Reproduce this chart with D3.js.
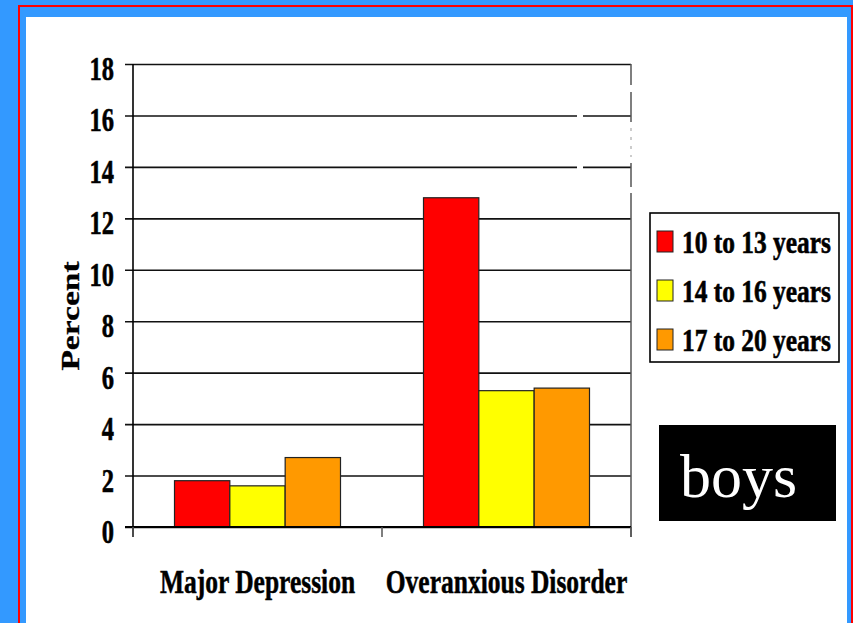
<!DOCTYPE html>
<html><head><meta charset="utf-8">
<script src="https://cdn.jsdelivr.net/npm/d3@7"></script>
<style>html,body{margin:0;padding:0;background:#3399FF;}svg{display:block;}</style>
</head><body>
<script>
const categories = ["Major Depression", "Overanxious Disorder"];
const seriesNames = ["10 to 13 years", "14 to 16 years", "17 to 20 years"];
const age10to13 = [1.8, 12.8];
const age14to16 = [1.6, 5.3];
const age17to20 = [2.7, 5.4];
const seriesColors = ["#FF0000", "#FFFF00", "#FF9900"];
const yTickValues = [0, 2, 4, 6, 8, 10, 12, 14, 16, 18];
const yAxisTitle = "Percent";
const badgeText = "boys";

(function () {
const W = 853, H = 623;
const FONT = "'Liberation Serif','Times New Roman',serif";
const svg = d3.select("body").append("svg").attr("width", W).attr("height", H);

// frame
svg.append("rect").attr("x", 0).attr("y", 0).attr("width", W).attr("height", H).attr("fill", "#3399FF");
svg.append("rect").attr("x", 19).attr("y", 6).attr("width", 833).attr("height", 640)
  .attr("fill", "none").attr("stroke", "#FF0000").attr("stroke-width", 2);
svg.append("rect").attr("x", 26).attr("y", 17).attr("width", 821).attr("height", 620).attr("fill", "#FFFFFF");

const pLeft = 133, pRight = 631, pTop = 64, pBottom = 527;
const x0 = d3.scaleBand().domain(categories).range([pLeft, pRight]).paddingInner(0).paddingOuter(0);
const bw = x0.bandwidth();
const x1 = d3.scaleBand().domain(seriesNames).range([bw / 6, bw * 5 / 6]).padding(0);
const y = d3.scaleLinear().domain([0, 18]).range([pBottom, pTop]);

// gridlines + y ticks
const yAxis = d3.axisLeft(y).tickValues(yTickValues).tickSize(-(pRight - pLeft)).tickFormat("");
const gy = svg.append("g").attr("transform", `translate(${pLeft},0)`).call(yAxis);
gy.select(".domain").remove();
gy.selectAll(".tick line").attr("stroke", "#111").attr("stroke-width", 1.6).attr("x1", -8).attr("x2", pRight - pLeft);

// tick labels (condensed bold serif)
yTickValues.forEach(v => {
  svg.append("text").attr("transform", `translate(114,${y(v) + 16}) scale(0.72,1)`)
    .attr("text-anchor", "end").attr("font-family", FONT).attr("font-weight", "bold")
    .attr("font-size", 34).attr("fill", "#000").attr("stroke", "#000").attr("stroke-width", 0.6).text(v);
});

// right border with gaps
const rightSegs = [[64, 85], [92, 122], [163, 187], [193, 537]];
rightSegs.forEach(s => svg.append("line").attr("x1", pRight).attr("x2", pRight).attr("y1", s[0]).attr("y2", s[1])
  .attr("stroke", "#555").attr("stroke-width", 1.5));
svg.append("line").attr("x1", pRight).attr("x2", pRight).attr("y1", 128).attr("y2", 157)
  .attr("stroke", "#999").attr("stroke-width", 1).attr("stroke-dasharray", "3,6");
// gaps in two gridlines
[16, 14].forEach(v => svg.append("rect").attr("x", 577).attr("y", y(v) - 3).attr("width", 6).attr("height", 6).attr("fill", "#fff"));

// bars
const data = categories.map((c, i) => ({ cat: c, vals: [age10to13[i], age14to16[i], age17to20[i]] }));
const groups = svg.append("g").selectAll("g").data(data).join("g")
  .attr("transform", d => `translate(${x0(d.cat)},0)`);
groups.selectAll("rect").data(d => d.vals.map((v, j) => ({ v, s: seriesNames[j], c: seriesColors[j] })))
  .join("rect")
  .attr("x", d => x1(d.s)).attr("width", x1.bandwidth())
  .attr("y", d => y(d.v)).attr("height", d => y(0) - y(d.v))
  .attr("fill", d => d.c).attr("stroke", "#222").attr("stroke-width", 1.2);

// left axis line
svg.append("line").attr("x1", pLeft).attr("x2", pLeft).attr("y1", pTop).attr("y2", pBottom + 10)
  .attr("stroke", "#000").attr("stroke-width", 1.6);
// bottom axis
svg.append("line").attr("x1", pLeft - 8).attr("x2", pRight).attr("y1", pBottom).attr("y2", pBottom)
  .attr("stroke", "#000").attr("stroke-width", 2.2);
const xAxis = d3.axisBottom(x0).tickSize(0).tickFormat("");
const gx = svg.append("g").attr("transform", `translate(0,${pBottom})`).call(xAxis);
gx.select(".domain").remove();
[pLeft, pLeft + bw, pRight].forEach(xx => svg.append("line").attr("x1", xx).attr("x2", xx)
  .attr("y1", pBottom).attr("y2", pBottom + 10).attr("stroke", "#555").attr("stroke-width", 1.5));

// category labels
categories.forEach(c => {
  svg.append("text").attr("transform", `translate(${x0(c) + bw / 2},593) scale(0.75,1)`)
    .attr("text-anchor", "middle").attr("font-family", FONT).attr("font-weight", "bold")
    .attr("font-size", 34).attr("fill", "#000").attr("stroke", "#000").attr("stroke-width", 0.5).text(c);
});

// y axis title
svg.append("text").attr("transform", "translate(79,316) rotate(-90) scale(1.29,1)")
  .attr("text-anchor", "middle").attr("font-family", FONT).attr("font-weight", "bold")
  .attr("font-size", 26).attr("fill", "#000").attr("stroke", "#000").attr("stroke-width", 0.3).text(yAxisTitle);

// legend
const lg = svg.append("g");
lg.append("rect").attr("x", 650).attr("y", 213).attr("width", 189).attr("height", 149)
  .attr("fill", "#fff").attr("stroke", "#000").attr("stroke-width", 1.6);
seriesNames.forEach((s, i) => {
  const yy = 231 + i * 49;
  lg.append("rect").attr("x", 657).attr("y", yy).attr("width", 16).attr("height", 21)
    .attr("fill", seriesColors[i]).attr("stroke", "#222").attr("stroke-width", 1);
  lg.append("text").attr("transform", `translate(682,${yy + 22}) scale(0.82,1)`)
    .attr("font-family", FONT).attr("font-weight", "bold").attr("font-size", 31).attr("fill", "#000")
    .attr("stroke", "#000").attr("stroke-width", 0.6).text(s);
});

// badge
svg.append("rect").attr("x", 659).attr("y", 425).attr("width", 177).attr("height", 96).attr("fill", "#000");
svg.append("text").attr("x", 680).attr("y", 497).attr("font-family", FONT).attr("font-size", 62)
  .attr("fill", "#fff").text(badgeText);
})();
</script>
</body></html>
